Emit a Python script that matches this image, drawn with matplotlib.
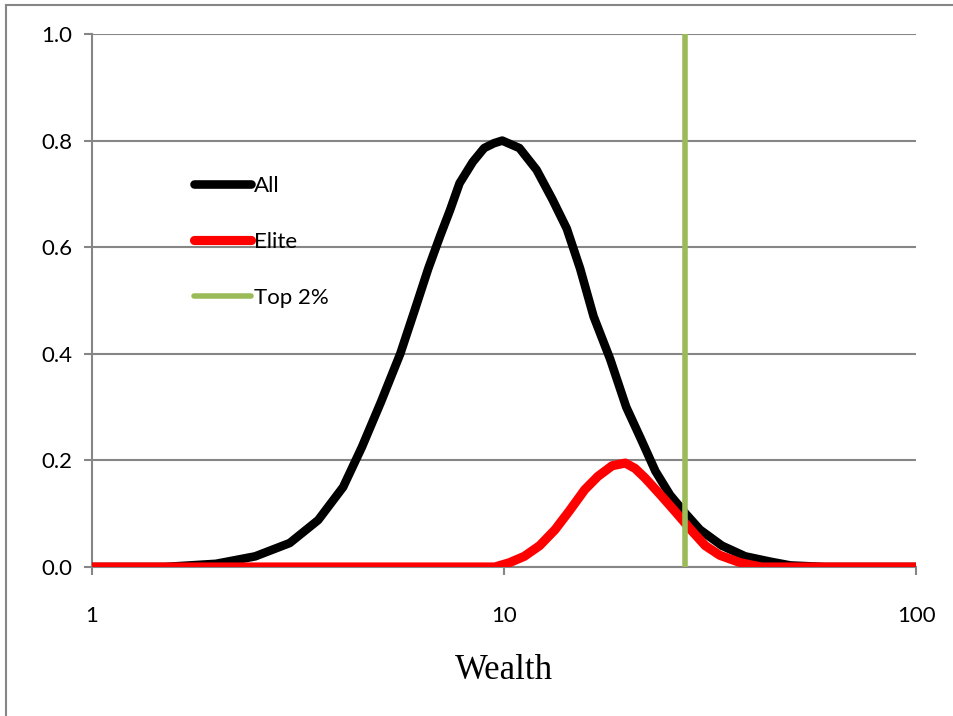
import matplotlib.pyplot as plt
from matplotlib.lines import Line2D

# wealth distribution: whole population vs elite
wealth_all = [1.0, 1.5, 2.0, 2.49, 3.02, 3.54, 4.07, 4.52, 5.03, 5.6, 6.06, 6.55, 6.99,
              7.4, 7.8, 8.4, 8.95, 9.45, 9.9, 10.9, 12.0, 13.1, 14.2, 15.3, 16.5,
              18.1, 19.8, 21.5, 23.3, 25.3, 27.6, 29.9, 33.8, 38.5, 44.3, 49.5, 60.0, 100.0]
dens_all = [0.0, 0.0, 0.006, 0.02, 0.045, 0.088, 0.15, 0.225, 0.31, 0.40, 0.48, 0.56, 0.62,
            0.67, 0.72, 0.76, 0.786, 0.795, 0.80, 0.786, 0.745, 0.69, 0.635, 0.56, 0.47,
            0.39, 0.30, 0.24, 0.18, 0.135, 0.10, 0.07, 0.04, 0.02, 0.01, 0.003, 0.0, 0.0]

wealth_elite = [1.0, 9.5, 10.3, 11.2, 12.2, 13.3, 14.4, 15.7, 16.9, 18.3, 19.7, 20.8, 22.0,
                24.0, 26.1, 28.4, 30.8, 33.4, 37.5, 42.1, 100.0]
dens_elite = [0.0, 0.0, 0.008, 0.02, 0.04, 0.07, 0.105, 0.145, 0.17, 0.19, 0.195, 0.185, 0.167,
              0.135, 0.103, 0.07, 0.04, 0.022, 0.008, 0.0, 0.0]

top2_cut = 27.5

grey = '#868686'
plt.rcParams['font.family'] = ['Lato', 'DejaVu Sans']

fig = plt.figure(figsize=(9.54, 7.16), dpi=100)
ax = fig.add_axes([0.0964, 0.2081, 0.8638, 0.7444])

ax.plot(wealth_all, dens_all, color='black', lw=6.2, solid_capstyle='round', zorder=3)
ax.plot(wealth_elite, dens_elite, color='#ff0000', lw=6.6, solid_capstyle='round', zorder=4)
ax.plot([top2_cut, top2_cut], [0, 1.0], color='#9bbb59', lw=4, zorder=5)

ax.set_xscale('log')
ax.set_xlim(1, 100)
ax.set_ylim(0, 1.0)
ax.set_xticks([1, 10, 100])
ax.set_xticklabels(['1', '10', '100'])
ax.minorticks_off()
ax.set_yticks([0, 0.2, 0.4, 0.6, 0.8, 1.0])
ax.set_yticklabels(['0.0', '0.2', '0.4', '0.6', '0.8', '1.0'])
ax.tick_params(axis='both', labelsize=16, color=grey, width=1.5, length=6)
ax.tick_params(axis='x', pad=22)
ax.tick_params(axis='y', pad=8)
ax.grid(axis='y', color=grey, lw=1.5, zorder=1)
for side in ['top', 'right']:
    ax.spines[side].set_visible(False)
for side in ['left', 'bottom']:
    ax.spines[side].set_color(grey)
    ax.spines[side].set_linewidth(1.5)

ax.set_xlabel('Wealth', fontsize=25, family=['Liberation Serif', 'DejaVu Serif'], labelpad=20)

handles = [Line2D([], [], color='black', lw=6.2, solid_capstyle='round'),
           Line2D([], [], color='#ff0000', lw=6.6, solid_capstyle='round'),
           Line2D([], [], color='#9bbb59', lw=4, solid_capstyle='round')]
ax.legend(handles, ['All', 'Elite', 'Top 2%'], loc='upper left', bbox_to_anchor=(0.1, 0.771),
          frameon=False, fontsize=16, handlelength=2.55, handletextpad=0.15, labelspacing=1.62)

# outer frame of the chart area
fig.add_artist(Line2D([6 / 954, 6 / 954], [0, 1 - 5 / 716], color=grey, lw=1.5))
fig.add_artist(Line2D([6 / 954, 1], [1 - 5 / 716, 1 - 5 / 716], color=grey, lw=1.5))

fig.savefig('out.png', dpi=100)
